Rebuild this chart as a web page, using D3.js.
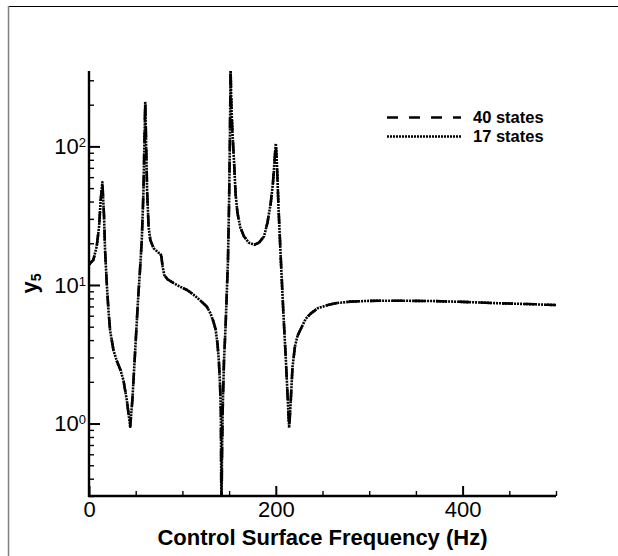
<!DOCTYPE html>
<html>
<head>
<meta charset="utf-8">
<script src="https://cdn.jsdelivr.net/npm/d3@7"></script>
<style>
  html, body { margin: 0; background: #fff; overflow: hidden; }
  svg { display: block; font-family: "Liberation Sans", Arial, sans-serif; }
</style>
</head>
<body>
<svg id="chart" width="618" height="556"></svg>
<script>
"use strict"

// frequency (Hz) and y5 response
var freq = [0, 4.7, 8.2, 10.8, 12.5, 14.3, 16.1, 17.2, 19, 20.8, 22.6, 26.2, 30, 34, 36.9, 40.5, 44.1,
    46.5, 48.5, 50.5, 52.5, 54.5, 56.5, 58.2, 59.4, 60.2, 61.1, 62.2, 63.8, 65.6, 69.2, 74.5, 76.5, 77.5,
    78.8, 80.6, 84, 90.7, 97.8, 105, 112, 119.4, 126, 130, 133, 135.5, 137.5, 139, 140.3, 141.2, 141.8,
    142.4, 143.2, 144.5, 146.2, 147.6, 148.8, 150, 150.9, 151.6, 152.4, 153.5, 155.2, 157, 159, 162, 166,
    171, 177, 182, 187.4, 191, 194.6, 197, 199, 200, 201.2, 203, 205.4, 208, 210.8, 213, 214.3, 215.6,
    217.9, 220.5, 223.3, 227, 232, 237.6, 245, 255.6, 265, 280, 300, 330, 370, 400, 442, 470, 500];

var states40 = [14.0, 15.2, 18.9, 26.4, 41, 55, 31.3, 17.9, 10.3, 6.6, 4.7, 3.38, 2.8, 2.4, 2.05, 1.47, 0.95,
    1.5, 2.6, 4.5, 7.8, 12.5, 21, 45, 110, 210, 110, 48, 26.4, 21.2, 18.4, 17.1, 16.9, 16.0,
    13.6, 11.8, 11.0, 10.3, 9.7, 9.2, 8.5, 7.7, 7.0, 6.24, 5.5, 4.8, 3.8, 2.86, 1.9, 1.2, 0.2,
    0.6, 1.3, 2.8, 5.0, 9.0, 15.2, 40, 120, 360, 200, 130, 80, 45, 33, 26, 22.4,
    20.2, 19.5, 20.2, 22.4, 28, 39, 55, 85, 105, 75, 35, 15.2, 6.5, 2.86, 1.4, 0.93, 1.3,
    2.56, 3.6, 4.3, 4.85, 5.7, 6.24, 6.8, 7.16, 7.4, 7.58, 7.68, 7.7, 7.65, 7.55, 7.37, 7.28, 7.16];

var states17 = [14.0, 15.2, 18.9, 26.4, 41, 55, 31.3, 17.9, 10.3, 6.6, 4.7, 3.38, 2.8, 2.4, 2.05, 1.47, 0.95,
    1.5, 2.6, 4.5, 7.8, 12.5, 21, 45, 110, 210, 110, 48, 26.4, 21.2, 18.4, 17.1, 16.9, 16.0,
    13.6, 11.8, 11.0, 10.3, 9.7, 9.2, 8.5, 7.7, 7.0, 6.24, 5.5, 4.8, 3.8, 2.86, 1.9, 1.2, 0.2,
    0.6, 1.3, 2.8, 5.0, 9.0, 15.2, 40, 120, 360, 200, 130, 80, 45, 33, 26, 22.4,
    20.2, 19.5, 20.2, 22.4, 28, 39, 55, 85, 105, 75, 35, 15.2, 6.5, 2.86, 1.4, 0.93, 1.3,
    2.56, 3.6, 4.3, 4.85, 5.7, 6.24, 6.8, 7.16, 7.4, 7.58, 7.68, 7.7, 7.65, 7.55, 7.37, 7.28, 7.16];

var xMajor = [0, 200, 400];
var xMinor = [50, 100, 150, 250, 300, 350, 450, 500];
var yMajor = [1, 10, 100];
var yExp = ["0", "1", "2"];
var yMinor = [0.3, 0.4, 0.5, 0.6, 0.7, 0.8, 0.9, 2, 3, 4, 5, 6, 7, 8, 9, 20, 30, 40, 50, 60, 70, 80, 90, 200, 300];

var legendNames = ["40 states", "17 states"];
var legendDash = ["11,11", "2,1"];

var svg = d3.select("#chart");
var W = 618, H = 556;
var plotL = 89, plotR = 556, plotT = 71, plotB = 496;

var x = d3.scaleLinear().domain([0, 500]).range([plotL, plotR]);
var y = d3.scaleLog().domain([0.3, 350]).range([plotB, plotT]);

// outer frame
svg.append("line").attr("x1", 8.5).attr("x2", W).attr("y1", 6.5).attr("y2", 6.5)
    .attr("stroke", "#000").attr("stroke-width", 1);
svg.append("line").attr("x1", 8.5).attr("x2", 8.5).attr("y1", 6).attr("y2", H)
    .attr("stroke", "#808080").attr("stroke-width", 1.5);

svg.append("clipPath").attr("id", "plotclip")
    .append("rect").attr("x", plotL).attr("y", plotT).attr("width", plotR - plotL).attr("height", plotB - plotT);

// curves
var line = d3.line()
    .defined(function(d) { return d[1] > 0; })
    .x(function(d) { return x(d[0]); })
    .y(function(d) { return y(d[1]); });

var series = [states40, states17];
series.forEach(function(s, i) {
    svg.append("path")
        .datum(freq.map(function(f, j) { return [f, s[j]]; }))
        .attr("clip-path", "url(#plotclip)")
        .attr("fill", "none")
        .attr("stroke", "#000")
        .attr("stroke-width", 2.6)
        .attr("stroke-dasharray", legendDash[i])
        .attr("stroke-linejoin", "round")
        .attr("d", line);
});

// x axis: minor and major ticks on their own groups
var gxMinor = svg.append("g").attr("transform", "translate(0," + plotB + ")")
    .call(d3.axisBottom(x).tickValues(xMinor).tickSize(-5).tickFormat(""));
var gx = svg.append("g").attr("transform", "translate(0," + plotB + ")")
    .call(d3.axisBottom(x).tickValues(xMajor).tickSize(-10).tickPadding(5).tickFormat(d3.format("d")));
gxMinor.select(".domain").remove();
gx.select(".domain").attr("stroke-width", 2.4).attr("d", "M" + (plotL - 1) + ",0H" + plotR);
gxMinor.selectAll(".tick line").attr("stroke", "#000").attr("stroke-width", 1.4);
gx.selectAll(".tick line").attr("stroke", "#000").attr("stroke-width", 2);
gx.selectAll("text").attr("font-size", 22).attr("font-family", "Liberation Sans, Arial, sans-serif").attr("fill", "#000");

// y axis
var gyMinor = svg.append("g").attr("transform", "translate(" + plotL + ",0)")
    .call(d3.axisLeft(y).tickValues(yMinor).tickSize(-5).tickFormat(""));
var gy = svg.append("g").attr("transform", "translate(" + plotL + ",0)")
    .call(d3.axisLeft(y).tickValues(yMajor).tickSize(-11).tickFormat(""));
gyMinor.select(".domain").remove();
gy.select(".domain").attr("stroke-width", 2.4).attr("d", "M0," + plotT + "V" + (plotB + 1));
gyMinor.selectAll(".tick line").attr("stroke", "#000").attr("stroke-width", 1.4);
gy.selectAll(".tick line").attr("stroke", "#000").attr("stroke-width", 2);

yMajor.forEach(function(v, i) {
    var t = gy.append("text")
        .attr("x", -3)
        .attr("y", y(v))
        .attr("dy", "0.36em")
        .attr("text-anchor", "end")
        .attr("font-size", 22)
        .attr("fill", "#000");
    t.append("tspan").text("10");
    t.append("tspan").attr("dy", "-0.55em").attr("font-size", 13).text(yExp[i]);
});

// axis titles
svg.append("text")
    .attr("x", (plotL + plotR) / 2)
    .attr("y", 545)
    .attr("text-anchor", "middle")
    .attr("font-size", 22)
    .attr("font-weight", "bold")
    .text("Control Surface Frequency (Hz)");

var ylab = svg.append("text")
    .attr("transform", "translate(37," + ((plotT + plotB) / 2) + ") rotate(-90)")
    .attr("text-anchor", "middle")
    .attr("font-size", 22)
    .attr("font-weight", "bold");
ylab.append("tspan").text("y");
ylab.append("tspan").attr("dy", "0.3em").attr("font-size", 14).text("5");

// legend
var lg = svg.append("g");
legendNames.forEach(function(name, i) {
    var ly = 117.5 + i * 19;
    lg.append("line")
        .attr("x1", 387).attr("x2", 461)
        .attr("y1", ly).attr("y2", ly)
        .attr("stroke", "#000")
        .attr("stroke-width", 2.4)
        .attr("stroke-dasharray", legendDash[i]);
    lg.append("text")
        .attr("x", 473)
        .attr("y", ly + 5.5)
        .attr("font-size", 16.5)
        .attr("font-weight", "bold")
        .text(name);
});
</script>
</body>
</html>
